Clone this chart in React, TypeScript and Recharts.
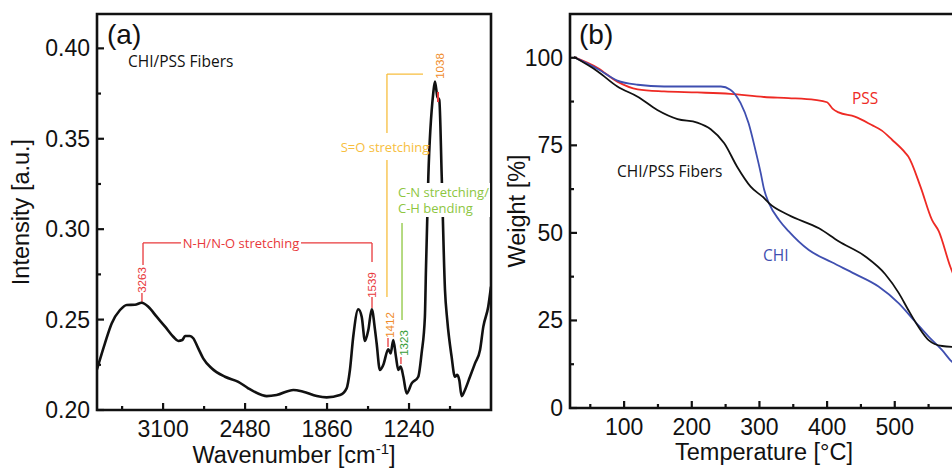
import React from "react";
import { LineChart, Line, XAxis, YAxis, ReferenceArea, ReferenceLine } from "recharts";

// (a) FTIR spectrum of the CHI/PSS fibers
const wavenumber = [
  3600, 3540, 3489, 3426, 3375, 3313, 3262, 3212, 3149, 3085, 3023, 2985, 2955, 2934, 2897, 2872, 2834, 2797, 2733,
  2632, 2531, 2456, 2354, 2317, 2241, 2115, 2040, 1938, 1863, 1762, 1712, 1687, 1662, 1624, 1598, 1573, 1548, 1522,
  1497, 1485, 1460, 1435, 1397, 1379, 1359, 1339, 1321, 1303, 1283, 1258, 1220, 1170, 1145, 1120, 1112, 1094, 1057,
  1044, 1026, 1011, 993, 968, 951, 918, 893, 875, 860, 842, 817, 779, 741, 703, 678, 641, 620,
];
const intensity = [
  0.2225, 0.2369, 0.2479, 0.2553, 0.2581, 0.2582, 0.2593, 0.2571, 0.2516, 0.2461, 0.2405, 0.2382, 0.2387, 0.2409,
  0.2409, 0.2397, 0.2341, 0.2286, 0.2231, 0.2184, 0.2156, 0.212, 0.2083, 0.2077, 0.2083, 0.2111, 0.2101, 0.2077,
  0.207, 0.2083, 0.212, 0.2221, 0.2405, 0.2557, 0.2516, 0.2382, 0.2442, 0.2557, 0.2442, 0.2369, 0.2221, 0.2249,
  0.2336, 0.2313, 0.2387, 0.2295, 0.2221, 0.224, 0.2184, 0.2092, 0.2147, 0.2184, 0.2313, 0.2516, 0.2774, 0.329,
  0.3751, 0.3816, 0.3733, 0.3714, 0.33, 0.2664, 0.2498, 0.2295, 0.2184, 0.2194, 0.2166, 0.2077, 0.2111, 0.2184,
  0.2258, 0.2332, 0.2461, 0.2571, 0.2682,
];
const wnTicks = [3410, 3100, 2790, 2480, 2170, 1860, 1550, 1240, 930];
const wnMajor = [3100, 2480, 1860, 1240];
const intTicks = [0.2, 0.225, 0.25, 0.275, 0.3, 0.325, 0.35, 0.375, 0.4];

// (b) TGA curves
const fiberTemp = [26, 61, 90, 120, 149, 179, 208, 228, 248, 267, 287, 307, 314, 343, 388, 417, 457, 486, 506, 520, 535, 550, 570, 590];
const fiberWeight = [100.2, 96.1, 91.8, 88.9, 85.1, 82.5, 81.5, 79.6, 75.6, 68.9, 63.2, 59.9, 58.5, 55.1, 51.3, 47.6, 43.2, 38.2, 32.8, 28, 23.2, 19.4, 17.7, 17.4];
const chiTemp = [26, 61, 90, 120, 159, 208, 243, 257, 272, 284, 294, 302, 307, 314, 329, 343, 373, 407, 441, 476, 506, 530, 550, 570, 582, 590];
const chiWeight = [100.2, 96.8, 93.5, 92.3, 91.8, 91.8, 91.8, 90.9, 87.1, 81.3, 73.7, 67, 62.3, 58.5, 53.7, 50.5, 45.1, 41.6, 38.3, 34.7, 29.9, 24.7, 20.4, 16.5, 13.7, 12.2];
const pssTemp = [26, 61, 90, 120, 159, 208, 257, 307, 343, 382, 400, 408, 417, 441, 466, 481, 496, 515, 520, 538, 555, 565, 582, 590];
const pssWeight = [100.2, 97.1, 93.2, 91, 90.4, 90.1, 89.7, 88.8, 88.5, 88, 87.3, 85.5, 84.4, 83.2, 80.8, 79.2, 76.6, 73, 71.8, 63.2, 53.7, 50.5, 40.4, 36.5];
const tempTicks = [50, 100, 150, 200, 250, 300, 350, 400, 450, 500, 550];
const weightTicks = [0, 12.5, 25, 37.5, 50, 62.5, 75, 87.5, 100];

const spectrum = wavenumber.map((wn, i) => ({ wn, v: intensity[i] }));
const zip = (t: number[], w: number[]) => t.map((x, i) => ({ t: x, w: w[i] }));

const SANS = "'Liberation Sans', Arial, sans-serif";
const NOTE = "'Open Sans', 'Noto Sans', sans-serif";
const RED = "#e8383b";
const ORANGE = "#f08b2a";
const YELLOW = "#f7be3e";
const GREEN = "#8dc63f";
const DKGREEN = "#3a9d3a";

const tickFont = { fontFamily: SANS, fontSize: 23, fill: "#111" };

function makeXTick(isMajor: (v: number) => boolean, fmt: (v: number) => string) {
  return (props: any) => {
    const { x, y, payload } = props;
    const major = isMajor(payload.value);
    return (
      <g>
        <line x1={x} y1={y} x2={x} y2={y - (major ? 7 : 4)} stroke="#111" strokeWidth={2.2} />
        {major && (
          <text x={x} y={y + 27} textAnchor="middle" {...tickFont}>
            {fmt(payload.value)}
          </text>
        )}
      </g>
    );
  };
}

function makeYTick(isMajor: (v: number) => boolean, fmt: (v: number) => string) {
  return (props: any) => {
    const { x, y, payload } = props;
    const major = isMajor(payload.value);
    return (
      <g>
        <line x1={x} y1={y} x2={x + (major ? 7 : 4)} y2={y} stroke="#111" strokeWidth={2.2} />
        {major && (
          <text x={x - 7} y={y + 8} textAnchor="end" {...tickFont}>
            {fmt(payload.value)}
          </text>
        )}
      </g>
    );
  };
}

const Rot = ({ x, y, color, children }: { x: number; y: number; color: string; children: string }) => (
  <text
    transform={`translate(${x},${y}) rotate(-90)`}
    textAnchor="middle"
    dominantBaseline="central"
    fontFamily={SANS}
    fontSize={11.5}
    fill={color}
  >
    {children}
  </text>
);

export default function App() {
  const seg = (x1: number, y1: number, x2: number, y2: number, color: string, w = 1.3) => (
    <ReferenceLine
      key={`${x1}-${y1}-${x2}-${y2}`}
      segment={[
        { x: x1, y: y1 },
        { x: x2, y: y2 },
      ]}
      stroke={color}
      strokeWidth={w}
      ifOverflow="visible"
    />
  );

  return (
    <div style={{ position: "absolute", left: 0, top: 0, width: 952, height: 469, overflow: "hidden", background: "#fff" }}>
      <div style={{ position: "absolute", left: 0, top: 0 }}>
        <LineChart width={500} height={469} data={spectrum} margin={{ top: 14, right: 9, bottom: 0, left: 0 }}>
          <XAxis
            dataKey="wn"
            type="number"
            domain={[620, 3600]}
            reversed
            allowDataOverflow
            ticks={wnTicks}
            interval={0}
            height={59}
            axisLine={false}
            tickLine={false}
            tickSize={0}
            tickMargin={0}
            tick={makeXTick((v) => wnMajor.includes(v), (v) => String(v))}
          />
          <YAxis
            type="number"
            domain={[0.2, 0.419]}
            allowDataOverflow
            ticks={intTicks}
            interval={0}
            width={97}
            axisLine={false}
            tickLine={false}
            tickSize={0}
            tickMargin={0}
            tick={makeYTick((v) => Math.abs(v * 20 - Math.round(v * 20)) < 1e-6, (v) => v.toFixed(2))}
          />
          {seg(1407, 0.3858, 1134, 0.3858, YELLOW)}
          {seg(1407, 0.3858, 1407, 0.3532, YELLOW)}
          {seg(1407, 0.3383, 1407, 0.2625, YELLOW)}
          {seg(1293, 0.3034, 1293, 0.2498, GREEN)}
          {seg(3252, 0.2924, 2965, 0.2924, RED)}
          {seg(2057, 0.2924, 1520, 0.2924, RED)}
          {seg(3252, 0.2924, 3252, 0.2802, RED)}
          {seg(1520, 0.2924, 1520, 0.2818, RED)}
          {seg(3260, 0.2647, 3260, 0.2592, RED)}
          {seg(1520, 0.2625, 1520, 0.2564, RED)}
          {seg(1399, 0.2398, 1399, 0.2348, RED)}
          {seg(1301, 0.2293, 1301, 0.2254, RED)}
          <Line dataKey="v" type="monotone" stroke="#111" strokeWidth={2.6} dot={false} isAnimationActive={false} />
          {seg(1021, 0.3759, 1021, 0.3703, RED, 2)}
          <ReferenceArea x1={620} x2={3600} y1={0.2} y2={0.419} fill="none" stroke="#111" strokeWidth={2.6} ifOverflow="visible" />
        </LineChart>
      </div>

      <div style={{ position: "absolute", left: 490, top: 0 }}>
        <LineChart width={485} height={469} margin={{ top: 14, right: 18, bottom: 0, left: 0 }}>
          <XAxis
            dataKey="t"
            type="number"
            domain={[20, 592]}
            allowDataOverflow
            ticks={tempTicks}
            interval={0}
            height={61}
            axisLine={false}
            tickLine={false}
            tickSize={0}
            tickMargin={0}
            tick={makeXTick((v) => v % 100 === 0, (v) => String(v))}
          />
          <YAxis
            type="number"
            domain={[0, 112.5]}
            allowDataOverflow
            ticks={weightTicks}
            interval={0}
            width={80}
            axisLine={false}
            tickLine={false}
            tickSize={0}
            tickMargin={0}
            tick={makeYTick((v) => v % 25 === 0, (v) => String(v))}
          />
          <Line data={zip(pssTemp, pssWeight)} dataKey="w" type="monotone" stroke="#ee2a24" strokeWidth={1.8} dot={false} isAnimationActive={false} />
          <Line data={zip(chiTemp, chiWeight)} dataKey="w" type="monotone" stroke="#3f4fb0" strokeWidth={1.8} dot={false} isAnimationActive={false} />
          <Line data={zip(fiberTemp, fiberWeight)} dataKey="w" type="monotone" stroke="#111" strokeWidth={1.8} dot={false} isAnimationActive={false} />
          <ReferenceArea x1={20} x2={592} y1={0} y2={112.5} fill="none" stroke="#111" strokeWidth={2.6} ifOverflow="visible" />
        </LineChart>
      </div>

      <svg width={952} height={469} style={{ position: "absolute", left: 0, top: 0, pointerEvents: "none" }}>
        {/* axis titles */}
        <text transform="translate(29,212) rotate(-90)" textAnchor="middle" fontFamily={SANS} fontSize={23.5} fill="#111">
          Intensity [a.u.]
        </text>
        <text x={294} y={463} textAnchor="middle" fontFamily={SANS} fontSize={23.5} fill="#111">
          Wavenumber [cm
          <tspan dy={-9} fontSize={15}>-1</tspan>
          <tspan dy={9}>]</tspan>
        </text>
        <text transform="translate(525,211) rotate(-90)" textAnchor="middle" fontFamily={SANS} fontSize={23.5} fill="#111">
          Weight [%]
        </text>
        <text x={764} y={460} textAnchor="middle" fontFamily={SANS} fontSize={23.5} fill="#111">
          Temperature [°C]
        </text>

        {/* panel (a) notes */}
        <text x={107} y={44} fontFamily={SANS} fontSize={28} fill="#111">(a)</text>
        <text x={128} y={67} fontFamily={NOTE} fontSize={15.5} fill="#111">CHI/PSS Fibers</text>
        <text x={385} y={152} textAnchor="middle" fontFamily={NOTE} fontSize={13} fill={YELLOW}>S=O stretching</text>
        <rect x={396} y={183} width={94} height={34} fill="#fff" />
        <text x={398} y={197} fontFamily={NOTE} fontSize={13} fill={GREEN}>C-N stretching/</text>
        <text x={398} y={213} fontFamily={NOTE} fontSize={13} fill={GREEN}>C-H bending</text>
        <text x={241} y={248} textAnchor="middle" fontFamily={NOTE} fontSize={13} fill={RED}>N-H/N-O stretching</text>
        <Rot x={142} y={280} color={RED}>3263</Rot>
        <Rot x={372} y={285} color={RED}>1539</Rot>
        <Rot x={390} y={325} color={ORANGE}>1412</Rot>
        <Rot x={403.5} y={343} color={DKGREEN}>1323</Rot>
        <Rot x={439.5} y={66} color={ORANGE}>1038</Rot>

        {/* panel (b) notes */}
        <text x={579} y={44} fontFamily={SANS} fontSize={28} fill="#111">(b)</text>
        <text x={852} y={104} fontFamily={NOTE} fontSize={15.5} fill="#ee2a24">PSS</text>
        <text x={617} y={177} fontFamily={NOTE} fontSize={15.5} fill="#111">CHI/PSS Fibers</text>
        <text x={763} y={261} fontFamily={NOTE} fontSize={15.5} fill="#3f4fb0">CHI</text>
      </svg>
    </div>
  );
}
